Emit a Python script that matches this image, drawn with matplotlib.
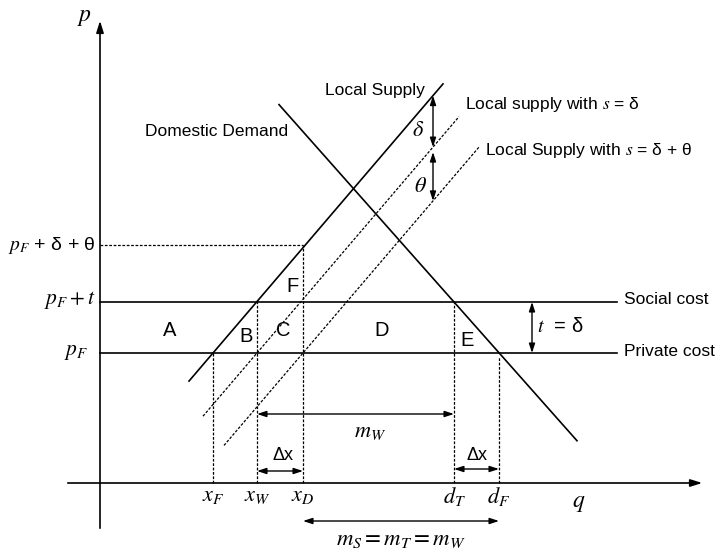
import numpy as np
from matplotlib import pyplot as plt

plt.rcParams['font.family'] = ['Liberation Sans', 'DejaVu Sans']
plt.rcParams['mathtext.fontset'] = 'stix'

# key quantities (origin at axis crossing)
p_F = 130
t = 51
p_top = 238
x_F, x_W, x_D = 113, 157, 203
d_T, d_F = 354, 399
s_slope = 1.17
d_slope = -1.128

# ranges for the drawn curves
supply_q = [89, 343]
supply1_q = [103, 359]
supply2_q = [124, 379]
demand_q = [179, 477]
cost_q = [0, 517]
q_axis = [-35, 605]
p_axis = [-48, 465]


def supply(q, x0):
    return p_F + s_slope * (np.array(q) - x0)


def demand(q):
    return p_F + t + d_slope * (np.array(q) - d_T)


fig = plt.figure(figsize=(7.24, 5.52), dpi=100)
ax = fig.add_axes([0, 0, 1, 1])
ax.set_xlim(-100, 624)
ax.set_ylim(-69, 483)
ax.axis('off')

lw = 1.2
dash = (0, (2.2, 1.3))

# axes
ax.annotate('', xy=(q_axis[1], 0), xytext=(q_axis[0], 0),
            arrowprops=dict(arrowstyle='-|>,head_length=0.7,head_width=0.22', lw=lw, color='black'))
ax.annotate('', xy=(0, p_axis[1]), xytext=(0, p_axis[0]),
            arrowprops=dict(arrowstyle='-|>,head_length=0.7,head_width=0.22', lw=lw, color='black'))

# curves
ax.plot(supply_q, supply(supply_q, x_F), color='black', lw=lw)
ax.plot(supply1_q, supply(supply1_q, x_W), color='black', lw=0.9, ls=dash)
ax.plot(supply2_q, supply(supply2_q, x_D), color='black', lw=0.9, ls=dash)
ax.plot(demand_q, demand(demand_q), color='black', lw=lw)
ax.plot(cost_q, [p_F + t] * 2, color='black', lw=lw)
ax.plot(cost_q, [p_F] * 2, color='black', lw=lw)

# dashed guides
ax.plot([0, x_D], [p_top, p_top], color='black', lw=0.9, ls=dash)
for xv, top in [(x_F, p_F), (x_W, p_F + t), (x_D, p_top), (d_T, p_F + t), (d_F, p_F - 4)]:
    ax.plot([xv, xv], [0, top], color='black', lw=0.9, ls=dash)

arr = dict(arrowstyle='<|-|>,head_length=0.55,head_width=0.18', lw=1.0, color='black',
           shrinkA=0, shrinkB=0)
# m_W
ax.annotate('', xy=(d_T, 69), xytext=(x_W, 69), arrowprops=arr)
# delta x
ax.annotate('', xy=(x_D, 12), xytext=(x_W, 12), arrowprops=arr)
ax.annotate('', xy=(d_F, 14), xytext=(d_T, 14), arrowprops=arr)
# m_S
ax.annotate('', xy=(d_F, -38), xytext=(x_D, -38), arrowprops=arr)
# delta and theta
qa = 333
ax.annotate('', xy=(qa, supply(qa, x_F)), xytext=(qa, supply(qa, x_W)), arrowprops=arr)
ax.annotate('', xy=(qa, supply(qa, x_W) - 5), xytext=(qa, supply(qa, x_D)), arrowprops=arr)
# t = delta
ax.annotate('', xy=(432, p_F + t), xytext=(432, p_F), arrowprops=arr)

fs = 12.5
ax.text(-16, 466, '$p$', fontsize=17, ha='center', va='center')
ax.text(479, -20, '$q$', fontsize=17, ha='center', va='center')
ax.text(225, 393, 'Local Supply', fontsize=fs, ha='left', va='center')
ax.text(365, 379, 'Local supply with $s$ = δ', fontsize=fs, ha='left', va='center')
ax.text(385, 333, 'Local Supply with $s$ = δ + θ', fontsize=fs, ha='left', va='center')
ax.text(45, 351, 'Domestic Demand', fontsize=fs, ha='left', va='center')
ax.text(524, 183, 'Social cost', fontsize=fs, ha='left', va='center')
ax.text(524, 132, 'Private cost', fontsize=fs, ha='left', va='center')

ax.text(-4, 238, '$p_F$ + δ + θ', fontsize=14, ha='right', va='center')
ax.text(-4, 183, '$p_F + t$', fontsize=15.5, ha='right', va='center')
ax.text(-12, 132, '$p_F$', fontsize=15.5, ha='right', va='center')

for xv, lab in [(x_F, '$x_F$'), (x_W, '$x_W$'), (x_D, '$x_D$'), (d_T, '$d_T$'), (d_F, '$d_F$')]:
    ax.text(xv, -13, lab, fontsize=16, ha='center', va='center')

regions = ['A', 'B', 'C', 'D', 'E', 'F']
region_pos = [(70, 153), (146, 146), (183, 153), (282, 153), (367, 143), (192, 197)]
for lab, (qx, py) in zip(regions, region_pos):
    ax.text(qx, py, lab, fontsize=14.5, ha='center', va='center')

ax.text(270, 51, '$m_W$', fontsize=16, ha='center', va='center')
ax.text(183, 27, 'Δx', fontsize=13, ha='center', va='center')
ax.text(377, 28, 'Δx', fontsize=13, ha='center', va='center')
ax.text(301, -55, '$m_S = m_T = m_W$', fontsize=16.5, ha='center', va='center')
ax.text(318, 353, '$\\delta$', fontsize=16, ha='center', va='center')
ax.text(320, 296, '$\\theta$', fontsize=16, ha='center', va='center')
ax.text(437, 156, '$t$  = δ', fontsize=14.5, ha='left', va='center')

fig.savefig('out.png', dpi=100)
